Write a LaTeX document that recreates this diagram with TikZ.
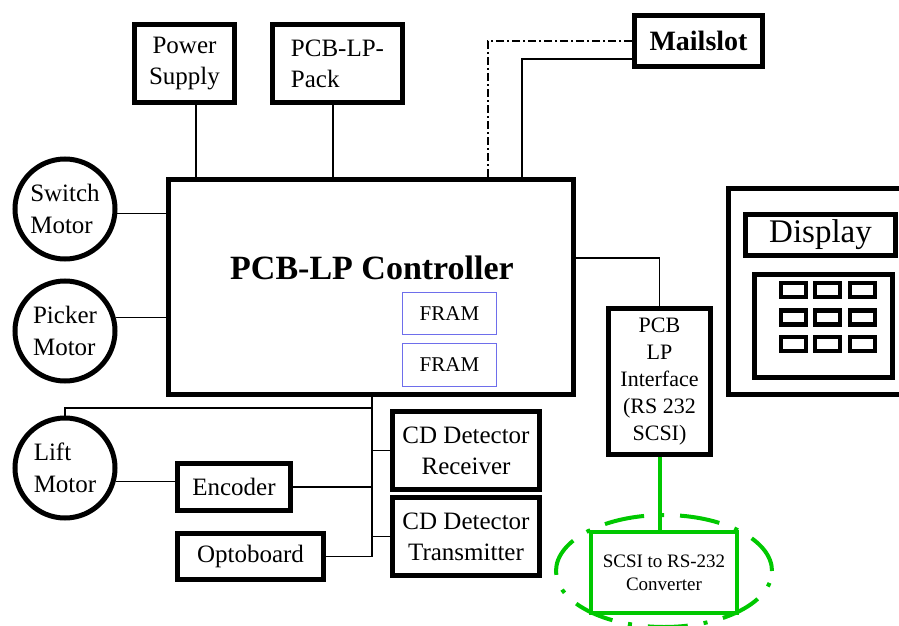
\documentclass[tikz,border=0pt]{standalone}
\usepackage{fontspec}
\setmainfont{Liberation Serif}
\usetikzlibrary{positioning,shapes.geometric}
\definecolor{framblue}{RGB}{110,110,235}
\definecolor{convgreen}{RGB}{0,200,0}

\begin{document}
\begin{tikzpicture}[x=1pt,y=-1pt,
    box/.style={draw,line width=5pt,inner sep=0pt,align=center,fill=white,font=\fontsize{25}{31}\selectfont},
    motor/.style={draw,circle,line width=5pt,minimum size=100pt,inner sep=0pt,align=left,font=\fontsize{25}{32}\selectfont},
    fram/.style={draw=framblue,line width=1.2pt,minimum width=94pt,minimum height=42pt,inner sep=0pt,font=\fontsize{21}{24}\selectfont},
    keybox/.style={draw,line width=4.5pt,minimum width=25pt,minimum height=14pt,inner sep=0pt},
    wire/.style={line width=1.3pt},
    gwire/.style={convgreen,line width=4pt}
  ]
    \clip (0,0) rectangle (899,626);
    \useasboundingbox (0,0) rectangle (899,626);

    % Top row
    \node[box, minimum width=100pt, minimum height=78pt] (power) at (184.5,63.5) {Power\\Supply};
    \node[box, minimum width=130pt, minimum height=78pt, align=left] (pack) at (337.5,63.5) {PCB-LP-\\Pack};
    \node[box, minimum width=128pt, minimum height=51pt, font=\fontsize{28}{32}\selectfont\bfseries] (mailslot) at (698.5,41) {Mailslot};

    % Controller
    \node[box, minimum width=405pt, minimum height=215pt] (ctrl) at (371,287) {};
    \node[font=\fontsize{34}{38}\selectfont\bfseries] (ctrltitle) at (372,268) {PCB-LP Controller};
    \node[fram] (fram1) at (449.5,313.5) {FRAM};
    \node[fram, minimum height=43pt] (fram2) at (449.5,365) {FRAM};

    % Motors
    \node[motor] (switch) at (65,209) {Switch\\Motor};
    \node[motor] (picker) at (65,331) {Picker\\Motor};
    \node[motor] (lift) at (65,468) {Lift\\Motor};

    % Bottom boards
    \node[box, minimum width=113pt, minimum height=47pt] (encoder) at (234,487) {Encoder};
    \node[box, minimum width=146pt, minimum height=46pt] (opto) at (250.5,556.5) {Optoboard};
    \node[box, minimum width=147pt, minimum height=78pt] (cdrx) at (466,450.5) {CD Detector\\Receiver};
    \node[box, minimum width=147pt, minimum height=78pt] (cdtx) at (466,536.5) {CD Detector\\Transmitter};

    % Interface + converter
    \node[box, minimum width=102pt, minimum height=146pt, font=\fontsize{22}{27}\selectfont] (iface) at (659.5,381.5) {PCB\\LP\\Interface\\(RS 232\\SCSI)};
    \node[draw=convgreen, line width=4pt, minimum width=146pt, minimum height=81pt, inner sep=0pt, align=center, font=\fontsize{19}{23}\selectfont] (conv) at (664,572.5) {SCSI to RS-232\\Converter};
    \node[draw=convgreen, ellipse, line width=4pt, minimum width=216pt, minimum height=112pt, dash pattern=on 40pt off 16pt on 4pt off 16pt] (ring) at (664,571) {};

    % Display panel
    \node[draw, line width=5pt, minimum width=182pt, minimum height=206pt, inner sep=0pt] (panel) at (819.5,291.5) {};
    \node[box, minimum width=150pt, minimum height=41pt, font=\fontsize{33}{36}\selectfont] (display) at (820.5,235) {Display};
    \node[box, minimum width=138pt, minimum height=103pt] (keypad) at (823.5,326) {};
    \foreach \kx [count=\i] in {793.5,827.5,862.5}
      \foreach \ky [count=\j] in {290,317.5,344}
        \node[keybox] (key\i\j) at (\kx,\ky) {};

    % Wires
    \coordinate (msolid) at (522,180);
    \coordinate (mdash) at (488,180);
    \coordinate (bus) at (372,556.5);
    \coordinate (liftjoint) at (372,408);

    \draw[wire] ([xshift=11.5pt]power.south) -- ([xshift=11.5pt]power.south |- ctrl.north);
    \draw[wire] ([xshift=-4.5pt]pack.south) -- ([xshift=-4.5pt]pack.south |- ctrl.north);
    \draw[wire] ([yshift=-18pt]mailslot.west) -| (msolid |- ctrl.north);
    \draw[wire, dash pattern=on 8pt off 3pt on 2pt off 3pt] (mailslot.west) -| (mdash |- ctrl.north);
    \draw[wire] ([yshift=29pt]ctrl.east) -| (iface.north);
    \draw[gwire] (iface.south) -- (iface.south |- conv.north);
    \draw[wire] (switch.-5) -- (switch.-5 -| ctrl.west);
    \draw[wire] (picker.15) -- (picker.15 -| ctrl.west);
    \draw[wire] (bus |- ctrl.south) -- (bus);
    \draw[wire] (liftjoint) -| (lift.north);
    \draw[wire] (cdrx.west -| bus) -- (cdrx.west);
    \draw[wire] (cdtx.west -| bus) -- (cdtx.west);
    \draw[wire] (encoder.east) -- (encoder.east -| bus);
    \draw[wire] (opto.east) -- (bus);
    \draw[wire] (lift.-15) -- (lift.-15 -| encoder.west);
  \end{tikzpicture}
\end{document}
